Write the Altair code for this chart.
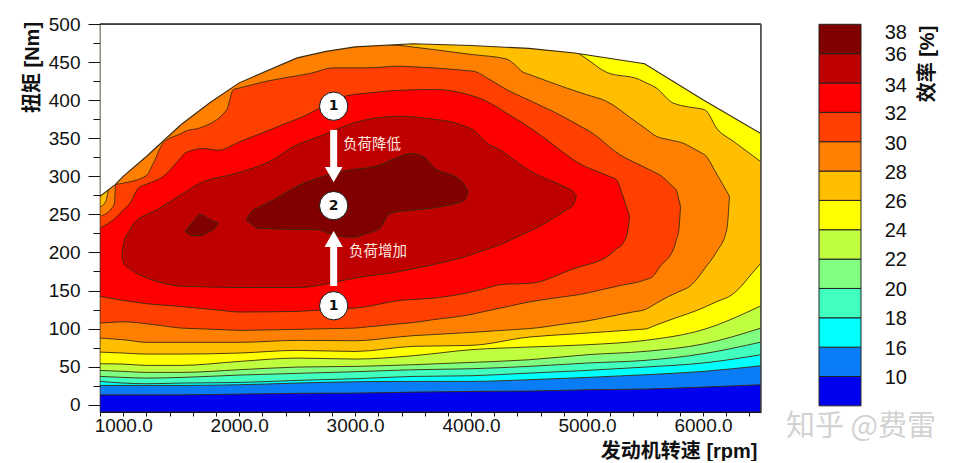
import altair as alt
import pandas as pd

FONT = "Liberation Sans, Noto Sans CJK SC"

# ---- engine speed samples shared by the lower boundaries
rpm_low = [800, 1000, 1200, 1500, 2000, 2500, 3000, 3500, 4000, 4500, 5000, 5500, 6000, 6500]
c1 = [13, 13, 13, 13, 14, 15, 15.3, 16.6, 17.5, 18, 19.7, 20.6, 23.2, 26.3]
c2 = [25.4, 25.4, 25.4, 25.4, 26.3, 28.5, 30.2, 30.7, 30.7, 32.9, 35.9, 39.4, 43.8, 51.2]
c3 = [30.7, 28.5, 27.6, 28.5, 29.3, 32, 34.2, 37.2, 38.1, 41.6, 45.1, 49.5, 54.8, 65.7]
c4 = [37.2, 35.9, 35, 35.9, 39, 41.2, 43.4, 46, 47.3, 50.4, 54.8, 58.3, 67, 82.3]
c5 = [45.1, 43.8, 42.5, 42.5, 46, 49.5, 50.4, 52.6, 55.6, 59.1, 65.7, 70.1, 79.7, 100.7]
c6 = [53.9, 53.4, 51.7, 51.7, 56.9, 61.3, 60, 64.4, 72.3, 75.8, 78.8, 84.5, 98.6, 130]

# full-load envelope (everything above it stays white)
env_rpm = [800, 931, 1000, 1200, 1500, 1750, 2000, 2500, 2750, 3000, 3498, 4000, 4497, 4893, 5496, 5996, 6500]
env_nm = [273.8, 289, 300, 326, 368, 397, 422.7, 455.5, 464, 470, 474, 471.8, 468, 462, 447.7, 400.8, 356]

# gold band (its upper edge runs past the envelope up to 4893 rpm)
gold_low_rpm = [800, 1000, 1200, 1500, 2000, 2500, 3000, 3500, 4000, 4500, 5000, 5500, 5996, 6250, 6300, 6425, 6500]
gold_low = [69.2, 67.9, 66.6, 66.6, 67.9, 71.4, 70, 76.7, 78, 88.9, 94.2, 99.4, 127, 144.5, 151, 173, 186.2]
gold_high_rpm = [800, 4500, 4893, 5166, 5453, 5597, 5740, 6013, 6128, 6500]
gold_high = [500, 500, 465, 436.7, 427, 416, 396.4, 387.6, 361, 319]

# orange band
orange_low_rpm = [800, 1000, 1200, 1500, 2000, 2500, 3000, 3500, 4000, 4500, 5000, 5500, 5700, 5860, 5996, 6113, 6205, 6228]
orange_low = [87.6, 85.4, 82, 82, 82, 84.5, 84.1, 90.7, 95, 100, 110, 125, 142, 153, 175, 200, 230, 273.8]
orange_high_rpm = [800, 850, 870, 931, 1000, 1200, 1500, 2000, 2500, 3000, 3386, 3673, 3960, 4305, 4376, 4448, 4822, 5166, 5396, 5597, 5855, 6013, 6113, 6228]
orange_high = [259.7, 267, 280, 310, 320, 346, 388, 442, 475, 474, 471.8, 466.5, 460.8, 454, 446.8, 436.7, 416, 398.6, 374.5, 352.6, 341.7, 328.5, 304.4, 273.8]

# orange-red band
ored_low_rpm = [800, 1000, 1200, 1500, 2000, 2500, 3000, 3500, 4000, 4500, 5000, 5500, 5568, 5755, 5792, 5806]
ored_low = [107.3, 109, 106.4, 100.7, 97.7, 99, 100.7, 108, 118.7, 135, 146.7, 164, 168.6, 208, 230, 260.6]
ored_high_rpm = [800, 900, 925, 935, 1000, 1200, 1261, 1347, 1534, 1663, 1893, 1950, 2237, 2610, 2812, 3099, 3386, 3673, 4018, 4161, 4305, 4735, 5022, 5281, 5625, 5769, 5806]
ored_high = [247.5, 258, 265, 289, 291, 301, 317.6, 343.8, 359, 363.6, 387.6, 414, 424.9, 435, 442.4, 442.4, 444.6, 442.4, 438, 427, 414, 383, 359, 328.5, 302, 282.5, 260.6]

# red band
red_low_rpm = [800, 1000, 1200, 1500, 2000, 2500, 3000, 3386, 3673, 3960, 4247, 4534, 4822, 5195, 5310, 5353, 5367]
red_low = [142.4, 137, 132.7, 129, 121.8, 122.6, 127, 137, 140, 146.7, 157.7, 159.9, 175, 197, 212, 230, 247.5]
red_high_rpm = [800, 931, 1060, 1132, 1347, 1534, 1692, 1821, 2524, 2984, 3386, 3673, 3960, 4190, 4534, 4879, 5252, 5310, 5367]
red_high = [232, 245, 265, 284.7, 300, 330.7, 336.4, 334.2, 376.7, 407.4, 413, 414, 408, 394, 361, 322, 295.7, 273.8, 247.5]

# dark-red island
dred_rpm = [990, 1003, 1060, 1090, 1290, 1520, 1663, 1950, 2123, 2295, 2467, 2525, 2697, 2984, 3386, 3673, 3817, 3960, 4018, 4132, 4247, 4448, 4534, 4822, 4879, 4908]
dred_low = [197, 186, 178, 175, 162, 155.5, 155, 154, 154, 154, 154, 154, 157, 166, 175, 184, 189, 195, 198, 204, 210, 224, 230, 256, 262, 274]
dred_high = [197, 212, 230, 238, 256, 278, 291, 303, 311, 322, 339, 343, 352.6, 370, 379, 375, 372, 365, 361, 344, 335, 313, 305, 285, 280, 274]

# maroon islands
mar_rpm = [2060, 2123, 2150, 2295, 2525, 2668, 2812, 2984, 3099, 3215, 3290, 3386, 3472, 3587, 3702, 3730, 3903, 3945, 3975]
mar_low = [243, 235, 232, 231, 230, 230, 223, 220, 225, 232, 250, 254, 255, 257, 259, 260, 266, 269, 280]
mar_high = [243, 256, 258, 269, 289, 297, 304, 309, 311, 315, 320, 326, 330, 326, 309, 307, 295.7, 288, 280]
mar2_rpm = [1534, 1600, 1663, 1750, 1778, 1821]
mar2_low = [228, 222, 222, 228, 230, 238.7]
mar2_high = [228, 240, 250, 243, 241, 238.7]

# colours of the scale, low to high
band_colors = ["#0000f0", "#0a7cf5", "#00ffff", "#40ffbf", "#80ff80", "#bfff40", "#ffff00",
               "#ffbf00", "#ff8000", "#ff4000", "#ff0000", "#bf0000", "#800000"]
band_labels = ["10", "16", "18", "20", "22", "24", "26", "28", "30", "32", "34", "36", "38"]
label_pos = [0.95, 1.95, 2.95, 3.96, 4.96, 5.96, 6.95, 7.95, 8.91, 9.93, 10.9, 11.94, 12.71]

# annotations
anno_rpm = 2815
circle_nm = [392, 261.5, 130]
circle_txt = ["1", "2", "1"]


def merged(x_low, low, x_high, high):
    """table of one region from its lower and upper boundary samples"""
    xs = sorted(set(x_low) | set(x_high))
    s_low = pd.Series(low, index=x_low, dtype=float).reindex(xs).interpolate(method="index").ffill().bfill()
    s_high = pd.Series(high, index=x_high, dtype=float).reindex(xs).interpolate(method="index").ffill().bfill()
    return pd.DataFrame({"rpm": xs, "lo": s_low.values, "hi": s_high.values})


top_x = [800, 6500]
top_y = [500, 500]
regions = [
    (merged(top_x, [-9.5, -9.5], top_x, top_y), band_colors[0]),
    (merged(rpm_low, c1, top_x, top_y), band_colors[1]),
    (merged(rpm_low, c2, top_x, top_y), band_colors[2]),
    (merged(rpm_low, c3, top_x, top_y), band_colors[3]),
    (merged(rpm_low, c4, top_x, top_y), band_colors[4]),
    (merged(rpm_low, c5, top_x, top_y), band_colors[5]),
    (merged(rpm_low, c6, top_x, top_y), band_colors[6]),
    (merged(gold_low_rpm, gold_low, gold_high_rpm, gold_high), band_colors[7]),
    (merged(orange_low_rpm, orange_low, orange_high_rpm, orange_high), band_colors[8]),
    (merged(ored_low_rpm, ored_low, ored_high_rpm, ored_high), band_colors[9]),
    (merged(red_low_rpm, red_low, red_high_rpm, red_high), band_colors[10]),
    (pd.DataFrame({"rpm": dred_rpm, "lo": dred_low, "hi": dred_high}), band_colors[11]),
    (pd.DataFrame({"rpm": mar_rpm, "lo": mar_low, "hi": mar_high}), band_colors[12]),
    (pd.DataFrame({"rpm": mar2_rpm, "lo": mar2_low, "hi": mar2_high}), band_colors[12]),
]

x_scale = alt.Scale(domain=[800, 6500], nice=False, zero=False)
y_scale = alt.Scale(domain=[-9.5, 500], nice=False, zero=False)

x_axis = alt.Axis(
    values=list(range(800, 6500, 200)), tickSize=4, tickColor="#111", grid=False,
    labelExpr="datum.value % 1000 === 0 ? format(datum.value, '.1f') : ''",
    labelFont=FONT, labelFontSize=19, labelColor="#111", labelPadding=0, labelOverlap=False,
    domainColor="#111", title="发动机转速 [rpm]", titleFont=FONT, titleFontSize=20, titleFontWeight="bold",
    titleColor="#111", titleAlign="right", titleBaseline="middle", titleX=657, titleY=39)
y_axis = alt.Axis(
    values=list(range(0, 501, 25)),
    tickSize={"condition": {"test": "datum.value % 50 === 0", "value": 12}, "value": 7},
    tickColor="#111", grid=False,
    labelExpr="datum.value % 50 === 0 ? format(datum.value, 'd') : ''",
    labelFont=FONT, labelFontSize=19, labelColor="#111", labelPadding=8, labelOverlap=False,
    domainColor="#111", domainWidth=1.5, title="扭矩 [Nm]", titleFont=FONT, titleFontSize=20,
    titleFontWeight="bold", titleColor="#111", titleAlign="center", titleBaseline="middle",
    titleX=-68, titleY=43)


def X(f):
    return alt.X(f, scale=x_scale, axis=x_axis)


def Y(f):
    return alt.Y(f, scale=y_scale, axis=y_axis)


layers = []
for df, col in regions:
    layers.append(alt.Chart(df).mark_area(color=col, stroke="#3a2a10", strokeWidth=0.9, clip=True,
                                           interpolate="monotone").encode(
        x=X("rpm:Q"), y=Y("lo:Q"), y2="hi:Q"))

# white above the full-load curve
above = pd.DataFrame({"rpm": env_rpm, "lo": env_nm, "hi": [500] * len(env_rpm)})
layers.append(alt.Chart(above).mark_area(color="white", stroke="#3a2a10", strokeWidth=1.1, clip=True).encode(
    x=X("rpm:Q"), y=Y("lo:Q"), y2="hi:Q"))

# frame
layers.append(alt.Chart(pd.DataFrame({"v": [500]})).mark_rule(color="#222", strokeWidth=1.5).encode(y=Y("v:Q")))
layers.append(alt.Chart(pd.DataFrame({"v": [6500]})).mark_rule(color="#444", strokeWidth=1.5).encode(x=X("v:Q")))

# arrows
shafts = pd.DataFrame({"rpm": [anno_rpm, anno_rpm], "a": [361, 208], "b": [309, 156]})
layers.append(alt.Chart(shafts).mark_rule(color="white", strokeWidth=7).encode(x=X("rpm:Q"), y=Y("a:Q"), y2="b:Q"))
heads = pd.DataFrame({"rpm": [anno_rpm], "nm": [303]})
layers.append(alt.Chart(heads).mark_point(shape="triangle-down", filled=True, fill="white", stroke="white", size=200, opacity=1).encode(
    x=X("rpm:Q"), y=Y("nm:Q")))
heads2 = pd.DataFrame({"rpm": [anno_rpm], "nm": [217]})
layers.append(alt.Chart(heads2).mark_point(shape="triangle-up", filled=True, fill="white", stroke="white", size=220, opacity=1).encode(
    x=X("rpm:Q"), y=Y("nm:Q")))

# numbered circles
circ = pd.DataFrame({"rpm": [anno_rpm] * 3, "nm": circle_nm, "t": circle_txt})
layers.append(alt.Chart(circ).mark_point(shape="circle", filled=True, fill="white", stroke="#111", strokeWidth=1, size=800, opacity=1).encode(
    x=X("rpm:Q"), y=Y("nm:Q")))
layers.append(alt.Chart(circ).mark_text(font="DejaVu Sans", fontWeight="bold", fontSize=14, color="#111").encode(
    x=X("rpm:Q"), y=Y("nm:Q"), text="t:N"))

# annotation labels
notes = pd.DataFrame({"rpm": [2895, 2947], "nm": [341.7, 201], "t": ["负荷降低", "负荷增加"]})
layers.append(alt.Chart(notes).mark_text(font="Noto Sans CJK SC", fontSize=14.5, color="#ffe8e0", align="left", baseline="middle").encode(
    x=X("rpm:Q"), y=Y("nm:Q"), text="t:N"))

main = alt.layer(*layers).properties(width=661, height=388)

# ---- colour scale panel
lx = alt.Scale(domain=[-38 / 42, 132 / 42], nice=False, zero=False)
ly = alt.Scale(domain=[-0.21, 13.01], nice=False, zero=False)
bands = pd.DataFrame({
    "a": [0] * 13, "b": [1] * 13,
    "i": list(range(13)), "j": list(range(1, 14)), "c": band_colors})
bar = alt.Chart(bands).mark_rect(stroke="#222", strokeWidth=1).encode(
    x=alt.X("a:Q", scale=lx, axis=None), x2="b:Q",
    y=alt.Y("i:Q", scale=ly, axis=None), y2="j:Q",
    fill=alt.Fill("c:N", scale=None))
lab = alt.Chart(pd.DataFrame({"x": [1.83] * 13, "y": label_pos, "t": band_labels})).mark_text(
    font=FONT, fontSize=20, color="#111").encode(
    x=alt.X("x:Q", scale=lx, axis=None), y=alt.Y("y:Q", scale=ly, axis=None), text="t:N")
ttl = alt.Chart(pd.DataFrame({"x": [2.6], "y": [10.34], "t": ["效率 [%]"]})).mark_text(
    font=FONT, fontSize=20, fontWeight="bold", color="#111", angle=270, align="left", baseline="middle").encode(
    x=alt.X("x:Q", scale=lx, axis=None), y=alt.Y("y:Q", scale=ly, axis=None), text="t:N")
wm = alt.Chart(pd.DataFrame({"x": [-0.786], "y": [-0.72], "t": ["知乎 @费雷"]})).mark_text(
    font="Noto Sans CJK SC", fontSize=29, color="#d2d2d2", align="left", baseline="middle").encode(
    x=alt.X("x:Q", scale=lx, axis=None), y=alt.Y("y:Q", scale=ly, axis=None), text="t:N")
legend = alt.layer(bar, lab, ttl, wm).properties(width=170, height=388)

chart = alt.hconcat(main, legend, spacing=19).properties(
    padding={"left": 14, "top": 7, "right": 0, "bottom": 0}, background="white"
).configure_view(stroke=None)

chart.save("out.html", embed_options={"renderer": "svg", "actions": False})
